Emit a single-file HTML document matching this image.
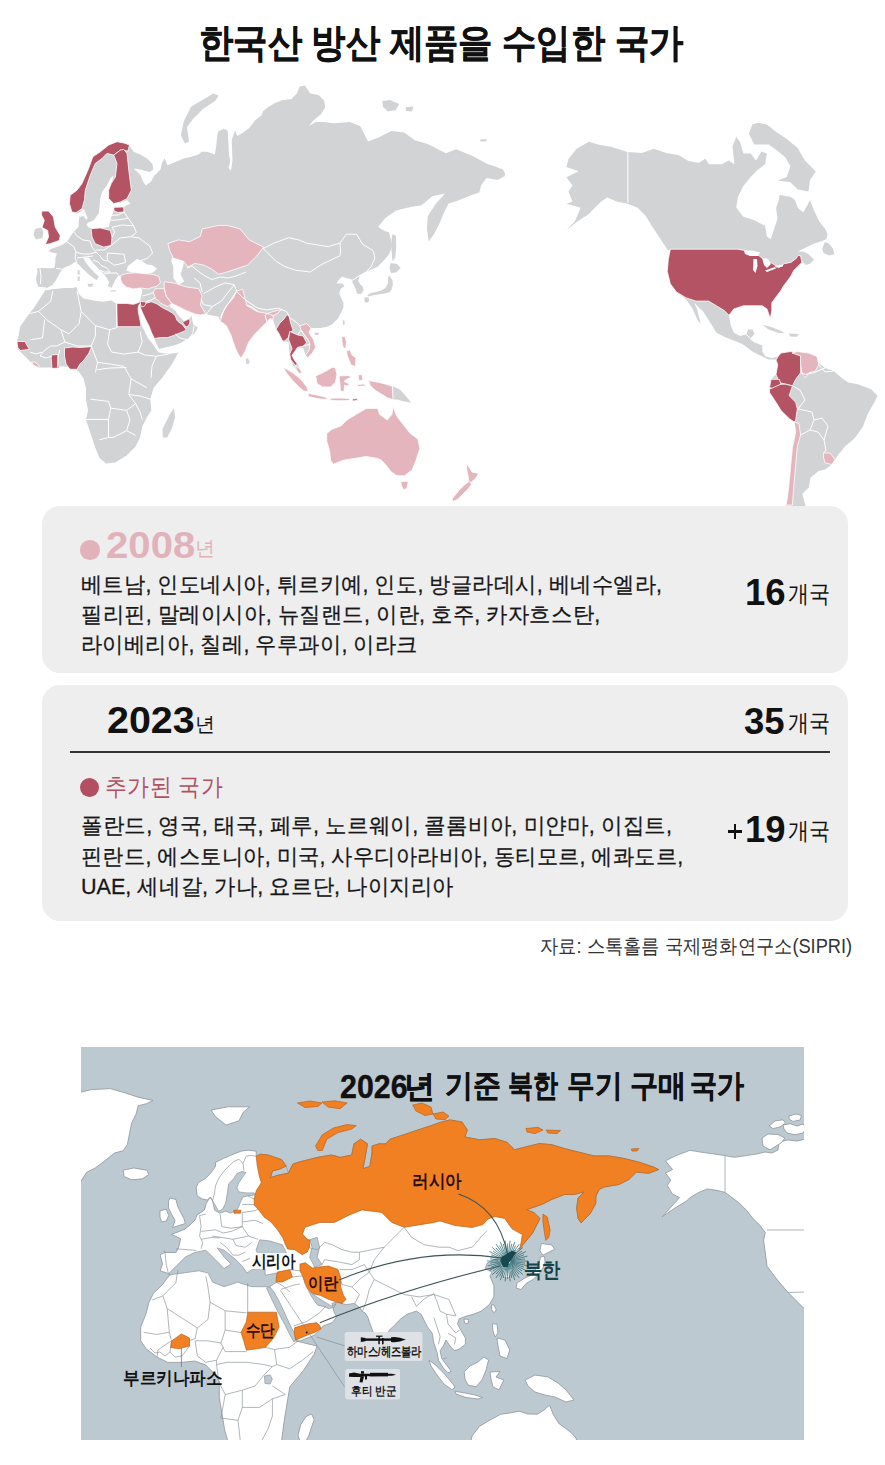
<!DOCTYPE html>
<html lang="ko">
<head>
<meta charset="utf-8">
<title>한국산 방산 제품을 수입한 국가</title>
<style>
html,body{margin:0;padding:0;background:#fff;}
body{width:885px;height:1465px;position:relative;overflow:hidden;font-family:"Liberation Sans",sans-serif;color:#111;}
.t{position:absolute;white-space:nowrap;line-height:1;transform-origin:0 0;}
.j{text-align:justify;text-align-last:justify;}
.panel{position:absolute;background:#eeeeee;border-radius:18px;}
#map1,#map2{position:absolute;left:0;top:0;}
.body{font-size:21px;color:#161616;-webkit-text-stroke:0.25px #161616;}
.num{font-weight:bold;font-size:36.5px;color:#111;}
.unit{font-size:22px;color:#111;transform:scale(0.965,1.1);}
.dot{position:absolute;border-radius:50%;}
</style>
</head>
<body>
<svg id="map1" width="885" height="1465" viewBox="0 0 885 1465">
<g fill="#d1d3d5">
<polygon points="46,287.5 41.8,287 38.5,287 36.5,282 36,278.5 37.6,271.8 36.8,268.5 42,268 50,268.3 54.3,268 55.2,263.5 55.5,258 56.9,253.4 52,252.5 48.5,251 51,249 56.9,246.8 62,245 66.9,241.7 70,237 73.6,231.7 78.6,227 78.6,222 79.4,217 76,212.8 71.9,212 69.4,203.6 70.2,195.3 77,190.2 82,183.5 88.6,168.5 92.8,156.8 100.3,151.8 108.7,145 117,141.7 124,143 129.5,146 133.6,151.7 140.3,154.4 147.1,158.5 152.5,163.9 153.2,169.3 149.8,172 144.4,170.7 139,169.3 133.6,168.6 140.3,174.7 143.1,181.5 145.8,185.6 151.2,181.5 153.9,176.1 156.6,173.4 160.7,169.3 162,162.5 164.7,158.5 167.5,165.3 174.2,162.5 183.7,158.5 190.5,157.1 198.6,154.4 201.4,151.7 206.8,151.7 214.9,154.4 216.3,145 217,138 218.1,131.5 223.6,128.8 227.6,130.2 228.3,141 229,154.6 230.3,161.4 228.5,168 231,170.5 232.5,160 231.7,140 235.1,130.2 237.1,136 242.5,133 249.3,128 254.7,120.7 261.5,115.3 262.9,111.2 268.3,107.1 275.1,103.1 281.9,100.3 291.4,99 296.8,93.6 299.5,86.8 304.9,85.4 307.6,89.5 310.3,93.6 318.5,94.9 323.9,100.3 325.3,107.1 321.2,113.9 313.1,120.7 309,126.1 315.8,122 323.9,122 334.2,123.3 349.8,122 360.2,125.9 368,141.5 378.4,137.6 391.4,131.1 404.3,132.4 414.7,140.2 427.7,144.1 435.5,148 445.9,153.2 456.3,149.3 471.9,155.8 480,160 487.5,164 497.9,167.5 503,169.5 505,173.5 504.7,176.3 497.4,179.9 486.6,178 481.2,185.3 479.3,192.5 468.5,196.2 457.6,200.7 448.6,203.4 443.2,214.2 439.6,223.3 434.1,234.1 428.7,241.4 426.9,228.7 427.8,216 436,203.4 445,193.5 432.3,196.2 421.5,205.2 410.6,207 396.2,210.6 385.3,217.9 378.1,226.9 383.5,230.5 388.9,232.3 391,240 392.2,246 389.5,253.6 384.1,260.3 377.3,267.1 370.5,269.8 366.4,271.2 365.1,272.5 359.7,275.3 358.3,281 360.5,284.7 362.4,286.1 363.7,290.2 361,294.2 357,293.6 355.6,288.8 354.2,286.1 352.9,283.4 351.5,279.3 346.1,278 342,276.6 338,280.7 336.6,283.4 342,283.4 344.7,286.1 340.7,288.8 339.3,292.9 340.7,297 343.4,302.4 343.4,307.8 340.7,313.2 338,318.6 332.5,324.1 327.1,326.8 320.3,328.1 316.3,328.1 311.2,328.1 308.9,332.6 313.4,339.4 315.7,347.3 312.3,352.9 307.8,357.5 305.5,355.2 303.2,348 299,347.5 295.3,350.7 292,355.2 294.2,359.7 297.6,364.2 299.9,368.8 302.1,373.3 298.7,373.3 296.5,369.9 293,365.5 290.8,359.7 289.7,354.1 289,348 288.6,342 284,341.6 281.8,339.4 278.4,332.6 276.1,329.2 273,320 270,318.5 267.1,321.7 261,327.8 254.9,333.9 248.8,342 244.7,352.2 240.7,358.3 236.6,351 234.6,346.1 230.5,333.9 226.4,325.8 222.4,322.5 220.3,321.7 218.3,316.5 212,315.5 205.8,314 200.4,315 195,314 186,310.4 178.7,306.8 171.5,303.2 169.7,306.8 175.1,310.4 178.7,315.8 181,318 184.1,321.3 189.6,318.6 191.4,315.8 193.3,324.8 197.8,327.5 195.1,333 189.7,337.5 184,341 180.7,342.9 173.9,345.6 167.1,347 159,349 157.1,345 154.4,339 151.7,333 149,326 145.4,319 142.7,313.1 140.8,308.6 140,305.8 141,303.8 139.6,303.6 139,304.5 138.1,308 138.5,313 140,320 142,326 145,332 148.1,338.4 152.6,343.8 156.2,349.2 157.5,351 159,352.4 167.1,353.7 172.5,353.4 178,352.4 175.3,358.5 171.2,365.3 167.1,370.7 162.4,377.5 153.7,387.8 150.3,399.1 151.4,410.4 146.9,417.2 142.4,426.2 140.1,437.5 135.6,446.6 126.6,455.6 115.3,462.4 106.2,463.5 99.4,457.9 94.9,446.6 90.4,433 85.9,419.4 88.1,410.4 85.9,399.1 85.9,387.8 83.6,378.8 79.1,372 74.6,368.6 63.3,366.3 52,367.5 38.4,367.5 31.6,363 24.9,356.2 18.1,349.4 17,340.3 18.4,337 20,327 26.8,317 33.4,308.6 40.1,298.6 45.2,290.2"/>
<polygon points="568.5,159 576.6,148.8 588.8,141.7 599,144.7 611.2,146.8 627.5,151.9 641.7,152.9 653.9,148.8 666.1,152.9 678.3,154.9 688.5,161 698.6,163 705.4,158.8 709,164.2 721.7,164.2 728.9,160.6 734.4,164.2 732.5,146.2 736.2,137.1 740,142 743.4,153.4 750.6,153.4 756,160.6 761.5,151.6 766.9,153.4 765.1,164.2 757.9,169.7 750.6,176.9 743.4,186 738,196.8 736.2,207.6 743.4,216.7 754.2,220.3 765.1,225.7 766.9,236.6 770.7,239.3 774.7,227.1 777.5,219 776.1,208.1 778.8,200 779.6,195 790.4,196.8 795,200 797.8,208.1 803.2,212.2 807.3,205.4 810,200 814.1,210.8 819.5,221.7 824.9,228.5 827.6,233.9 826.3,239.3 819.5,242 814.1,243.4 805.9,247.5 800.5,250.2 797.8,251.5 803.2,251.5 808.6,254.2 814.1,259.7 810,263.7 805.9,265.1 803.2,262.4 801.9,259.7 801.9,262.4 797.8,266.4 793.7,270.5 791,275.9 787,281.4 782.9,286.8 781.3,290 776.5,296.3 771.8,302.7 771.8,310.6 770.2,318.5 767,309 762.3,305.8 752.8,305.8 743.3,305.8 733.8,309 729,315.3 730.6,324.8 733.8,332.7 740.1,335.9 746.5,334.3 748,329.6 752.8,329.6 754.4,334.3 749.6,339 754.4,342.2 762.3,345.4 762.3,351.7 765.4,356.5 771.8,358 778.1,356.5 781,353 790.8,351.5 800.6,353.1 808.8,354.7 815.4,358 818.7,362.9 825.2,367.9 833.4,371.1 841.6,377.7 848.1,382.6 858,384.2 871.1,389.2 877.6,395.7 874.4,402.3 867.8,413.7 862.9,426.8 854.7,438.3 844.9,446.5 838.3,454.7 831.8,464.5 825.2,469.4 818.7,471.1 810.5,477.6 808.8,487.5 802.3,494 805.5,505.5 805,520 786,520 785.9,505.5 787.5,497.3 789.2,482.6 790.8,464.5 792.4,448.1 795.7,431.8 794.1,421.9 789.2,418.6 781,410.5 776,402.3 769.5,392.4 769.5,387.5 771.1,379.3 776,374.4 777.7,364.6 776,360 774.9,359.6 768.6,359.6 762.3,356.5 752.8,351.7 746.5,347 741.7,343.8 733.8,340.6 725.9,337.5 716.4,332.7 711.6,324.8 703.7,312.2 694.2,302.7 697,309 700.6,323.2 698,321 692.7,309 686.3,299.5 676.4,292 670.3,283.8 667.3,271.6 668.3,259.4 670.2,249.5 668.1,250.5 660,238.3 651.9,226.1 645.8,215.9 637.6,207.8 627.5,203.7 617.3,201.7 607.1,197.6 601,201.7 592.9,209.8 588.8,213.9 576.6,222 566.4,230.2 575,221 580.7,207.8 566.4,203.7 572.5,201.7 568.5,191.5 572.5,185.4 566.4,177.3 578.6,171.2 566.4,167.1"/>
<polygon points="35,229 41,227.5 43.5,232 42.5,238 36,239.5 33.5,235"/>
<polygon points="191,106.8 201.2,100.7 213.4,93.6 218.5,95.6 215.4,100.7 203.2,108.8 193,119 187,127.1 189,141.4 184.9,143.4 180.8,135.2 183.9,121"/>
<polygon points="382.3,101 390,99.9 399.2,104 396,110 388,111.6 383,107"/>
<polygon points="405.6,107 413.4,106.4 412,111.6 406,111"/>
<polygon points="480,139.5 486.5,139 486,141.5 480.5,141.5"/>
<polygon points="392.5,234.1 396,236 396.2,246.8 395.3,257.6 392.5,261.3 391.5,250 391.5,240"/>
<polygon points="390.7,263 397,264 400.7,268 396,272.5 391,273 389.5,268"/>
<polygon points="389,275.5 392.5,280 392.9,285 391.5,290 389,292.5 384,293.5 378,294.5 372,295.5 368,296.5 367.4,295 371,293 376,292 381,290.5 385.5,288 388,283 388,278"/>
<polygon points="364.3,297.5 368.5,297.3 369.3,301 366.5,302.9 364.5,301.5"/>
<polygon points="342.8,320.2 344.5,320.5 344.7,324.7 343,325"/>
<polygon points="314.5,332.6 319,332.8 318.5,335 315,335"/>
<polygon points="245.8,358.5 248,358.3 249.8,362 248,364.4 246,363"/>
<polygon points="162.7,428.5 169.5,414.9 174,408.1 175.1,417.2 171.8,428.5 167.2,437.5 162.7,437.5"/>
<polygon points="393.1,386.2 400.3,390.1 405,394.9 411.3,402.8 403.4,401.2 397.1,399.6 393.1,399.6"/>
<polygon points="752.4,124.5 757.9,122.7 766.9,124.5 776,131.7 786.8,138.9 797.6,148 804.9,160.6 815.7,171.5 810,180 808.5,191.4 797.6,189.6 790.4,182.3 777.8,180.5 786.8,176.9 790.4,166 785,157 776,149.8 768.7,144.4 754.2,144.4 748.8,133.5"/>
<polygon points="824.9,242 829,243.5 833,248.8 834.4,254.2 829,255.6 823.6,252.9 822.2,248.8"/>
<polygon points="762.3,324.8 771.8,327.2 781.3,331.1 784.4,333.5 778.1,332.7 768.6,329.6"/>
<polygon points="789,333.5 798.7,334 797,336.7 790,336.5"/>
</g>
<g fill="#ffffff">
<polygon points="46,287.8 47,288.1 52.6,284.7 56,280.2 59.4,273.4 62.8,268.9 63.9,267.8 69.5,265.5 75.2,262.1 78.6,264.4 83.1,268.9 87.6,273.4 93.3,277.9 96.7,280.2 98.9,276.8 95.5,273.4 89.9,267.8 85.4,262.1 83.1,257.6 88.8,257.6 93.3,263.2 98.9,268.9 103.4,273.4 106.8,277.9 109.1,282.5 108,285.8 111.4,288.1 113.6,283.6 115.9,279.1 118,276 120.7,276 120.7,279.9 122.5,283.5 126.2,287.1 133.4,288.9 140.6,288 142.4,289.8 141.5,294.4 140.6,298.9 139.7,301.6 138.8,302.5 133.4,304.3 126.2,303.4 116.2,303.4 111.4,300.5 103.4,301.7 93.3,300.5 83.1,298.3 78.6,293.8 76.3,287 73,288.1 63.9,288.1 52.6,289.2 45.5,290.2"/>
<polygon points="126.3,270.6 128,266 133,262 137.1,258.9 142,261 147,264.5 152,265 157,268.8 153,272.5 146.2,274.2 139,273 131.7,272.4"/>
<polygon points="171.5,258 182.3,256.2 184.1,261 183,267 180.5,274.2 184.1,281.5 178.7,285.1 173.3,277.9 173.3,267 171.5,262"/>
<polygon points="93.6,220.3 98.7,213.6 99.5,207 100.3,198.6 102,191.9 107,185.2 110.4,178.5 113.7,175.2 111.2,183.5 108.7,190.2 108.7,198.6 113.7,203.6 120.4,202.8 127,200.3 130.4,203.6 123.7,207 115.4,207 113.7,210.3 112,215.3 110.4,220.3 108.7,227 102,227.9 93.6,228.7 88.5,227.5 86.5,224.5 88.5,222.2 91,221.6"/>
<polygon points="76.5,214 80,212 83,209 84.5,210 86,214 87.5,218 86.5,220 85,218 83.5,216 80.5,216.8 78,216"/>
</g>
<g fill="#d1d3d5">
<polygon points="87.6,284 93.3,283.6 92,287 88,286.5"/>
<polygon points="77.5,270 79.7,270.5 79.5,275 77.8,274.5"/>
<polygon points="77.6,276.5 79.7,276.5 79.6,281.3 77.8,281"/>
<polygon points="110,290.5 116,290.3 115.5,291.6 110.2,291.6"/>
</g>
<g stroke="#fff" stroke-width="0.8" stroke-linejoin="round">
<polygon fill="#b45364" points="76,212.8 71.9,212 69.4,203.6 70.2,195.3 77,190.2 82,183.5 88.6,168.5 92.8,156.8 100.3,151.8 108.7,145 117,141.7 124,143 129.5,145 128,151 120.4,150.1 113.7,155.1 107,153.4 102,158.5 95.3,163.5 90.3,175.2 85.3,190.2 84.4,200.3 82,208.6"/>
<polygon fill="#b45364" points="113.7,155.1 120.4,150.1 123.7,149.3 127,153.4 128.8,170.2 131.3,190.2 127,198.6 120.4,202 113.7,203.6 108.7,198.6 108.7,190.2 111.2,183.5 115.4,176.9 117,163.5"/>
<polygon fill="#b45364" points="113.7,207.3 123.7,207 124,212 118,212.5 114,211"/>
<polygon fill="#b45364" points="91.1,228.7 100.3,227.9 110.4,230.4 112,237 111.2,245.4 103.7,247.1 95.3,243.7 92,237"/>
<polygon fill="#b45364" points="116.2,303.4 126.2,303.4 133.4,304.3 138.8,302.5 139.7,301.6 140.5,303.8 139,304.5 138.1,308 138.5,313 140,320 141,325.7 139.5,326.7 117.2,326.7"/>
<polygon fill="#b45364" points="141,304 146.3,303.1 151.7,301.8 157.1,304 162.5,307.7 168,310.4 172.5,313.1 175.2,315.8 177,320.3 179.7,323 182,324 186.1,329.4 184.2,331.2 175.2,334.8 168,337.5 160.7,337.5 154.5,338.5 151.7,333 149,326 145.4,319 142.7,313.1 140.8,308.6 140,305.8"/>
<polygon fill="#b45364" points="182.5,322.5 184.1,321.3 189.6,318.6 190,322 188.5,326 186,327"/>
<polygon fill="#b45364" points="140.3,301.3 144.5,301.8 146.3,303.1 144,306.5 141.5,306.8 140.5,304"/>
<polygon fill="#b45364" points="17,341.5 24.9,341.5 29.4,349.4 20.3,350.5 17.5,347.1"/>
<polygon fill="#b45364" points="51,355 58,354.5 59,368 52,368.5"/>
<polygon fill="#b45364" points="64.5,348 72,347 80,347.5 91.5,346.7 89,353 84,360 80,364 77,369.3 70,369.3 66,364 64.5,356"/>
<polygon fill="#b45364" points="288.6,314.5 290.8,323.6 293.1,330.3 289.7,332.6 288.6,337.1 284,341.6 281.8,339.4 278.4,332.6 276.1,329.2 279.5,323.6 284,319 286.3,315.6"/>
<polygon fill="#b45364" points="289.7,331.5 297.6,334.9 303.2,336 306.6,342.8 303.2,346.2 297.6,347.3 295.3,350.7 292,355.2 294.2,359.7 297.6,364.2 295.3,365.4 290.8,359.7 289.7,354.1 292,348.4 288.6,339.4"/>
<polygon fill="#e4b5bd" points="299.9,325.8 306.6,323.6 311.2,328.1 308.9,332.6 313.4,339.4 315.7,347.3 312.3,352.9 307.8,357.5 305.5,355.2 308.9,350.7 310,343.9 307.8,339.4 304.4,334.9 301,330.3"/>
<polygon fill="#e4b5bd" points="295.3,365.4 299.9,368.8 302.1,373.3 298.7,373.3 296.5,369.9"/>
<polygon fill="#e4b5bd" points="120.7,275.4 126.2,273.6 135.2,272.7 144.2,273.6 153.3,274.5 158.7,276.3 160.5,282.6 156.9,286.2 153.3,287.1 147.9,288.9 140.6,288 133.4,288.9 126.2,287.1 122.5,283.5 120.7,279.9"/>
<polygon fill="#e4b5bd" points="167.9,243.5 178.7,239.9 189.6,241.7 200.4,236.3 202.2,229 218.5,225.4 227.5,225.4 240.2,229 249.2,239.9 263.7,247.1 256.5,256.2 247.4,265.2 236.6,268.8 225.7,272.4 218.5,274.2 211.3,268.8 204,265.2 195,263.4 187.8,267 184.1,261.6 173.3,258 169.7,250.7"/>
<polygon fill="#e4b5bd" points="164.2,281.5 175.1,283.3 186,286.9 198.6,288.7 202.2,295.9 200.4,305 205.8,314 200.4,315 195,314 186,310.4 178.7,306.8 171.5,303.2 166.1,296 164.2,288.7"/>
<polygon fill="#e4b5bd" points="155.2,288.7 164.2,288.7 166.1,296 171.5,303.2 167.9,306.8 160.6,303.2 155.2,297.8 153.4,292.3"/>
<polygon fill="#e4b5bd" points="242.7,289.1 236.6,291.2 232.5,299.3 226.4,305.4 222.4,313.6 220.3,321.7 222.4,322.5 226.4,325.8 230.5,333.9 234.6,346.1 236.6,351 240.7,358.3 244.7,352.2 248.8,342 254.9,333.9 261,327.8 267.1,321.7 265.1,315.6 273.2,315.6 278,313 281.4,309.5 273.2,311.5 267.1,313.6 256.9,311.5 246.8,305.4 245,298"/>
<polygon fill="#e4b5bd" points="267.1,313.6 273.2,315.6 273,320 270,318.5 267.1,321.7 265.1,315.6"/>
<polygon fill="#e4b5bd" points="31.6,361.8 35,362 39.5,366 38.4,367.5 33,365"/>
<polygon fill="#b45364" points="670.3,249.2 737.5,249.2 745,250.5 752,252 758,255 762,258 770,262 778.8,267.8 784.2,263.7 791,262.4 796.4,258.3 797.8,255.6 800.5,255.6 801.9,262.4 797.8,266.4 793.7,270.5 791,275.9 787,281.4 782.9,286.8 781.3,290 776.5,296.3 771.8,302.7 771.8,310.6 770.2,318.5 767,309 762.3,305.8 752.8,305.8 743.3,305.8 733.8,309 729,315.3 724.3,310.6 716.4,305.8 708.5,301.1 695.8,301.1 686.3,297.9 676.4,292 670.3,283.8 667.3,271.6 668.3,259.4"/>
<polygon fill="#b45364" points="778.1,356.5 781,353 790.8,351.5 800.6,354.7 800.6,372.8 795.7,379.3 792.4,385.9 785.9,384.2 779.3,382.6 776,374.4 777.7,364.6 776,360"/>
<polygon fill="#e4b5bd" points="792,353 797.3,351.5 808.8,353.1 817,356.4 818.7,364.6 815.4,371.1 808.8,372.8 805.5,377.7 802.3,374.4 800.6,364.6 800.6,356"/>
<polygon fill="#b45364" points="771.1,379.3 779.3,379.3 781,384.2 774.4,389.2 769.5,387.5"/>
<polygon fill="#b45364" points="769.5,389.2 781,384.2 785.9,384.2 792.4,385.9 789.2,395.7 795.7,402.3 797.3,408.8 795.7,420.3 794.1,421.9 789.2,418.6 781,410.5 776,402.3 769.5,392.4"/>
<polygon fill="#e4b5bd" points="794.1,421.9 799,423.6 800.6,435 797.3,446.5 795.7,464.5 794.1,482.6 792.4,505 786,505 785.9,505.5 787.5,497.3 789.2,482.6 790.8,464.5 792.4,448.1 795.7,431.8"/>
<polygon fill="#e4b5bd" points="823.6,453 830.1,453 835,459.6 831.8,464.5 825.2,462.9 823.6,458"/>
<polygon fill="#e4b5bd" points="283.2,367.2 292.7,372.7 300.6,379 306.9,387 308.5,391.7 303.7,390.9 299,387 292.7,380.6 286.3,372.7"/>
<polygon fill="#e4b5bd" points="307.7,393.3 316.4,394.9 325.9,397.2 327.5,399.6 318,398.8 308.5,396.5"/>
<polygon fill="#e4b5bd" points="330,398.2 340,398 350,398.5 349,400.6 338,400.8 330,400.2"/>
<polygon fill="#e4b5bd" points="315.6,375.9 321.1,373.5 327.5,370.3 332.2,367.2 335.4,368 337,374.3 335.4,382.2 330.6,387 322.7,387 317.2,383.8"/>
<polygon fill="#e4b5bd" points="339,376 348,375.5 352,377 346,379.5 344,381.5 350,384 347,386 344.5,385 344,391.7 340.5,391 340,384"/>
<polygon fill="#e4b5bd" points="358,375 362,374.5 363,380 359,381"/>
<polygon fill="#e4b5bd" points="357,384.5 364,384 366,386 358,386.5"/>
<polygon fill="#e4b5bd" points="341.7,336.3 345,336.5 346.5,342 345.5,349 343,347 342,342"/>
<polygon fill="#e4b5bd" points="346.5,350.6 350,350 352,355 356,358 355.5,366.4 351,365 349,360 347,355"/>
<polygon fill="#e4b5bd" points="368.6,380.6 378.1,382.2 384.4,383.8 392.3,386.2 393.1,399.6 387.6,398 382.8,394.9 374.9,390.1 370.2,385.4"/>
<polygon fill="#e4b5bd" points="326.7,433.4 331.5,429.6 341.1,425.7 346.9,420 356.5,414.2 366.1,408.4 377.6,408.4 379.5,414.2 387.2,420 392,414.2 393,406.5 396.8,416.1 402.6,423.8 410.3,433.4 418,439.2 419.9,448.8 416,460.3 412.2,469.9 404.5,475.7 396.8,475.7 391.1,471.8 385.3,464.2 381.5,460.3 377.6,458.4 366.1,456.5 354.6,458.4 343.1,460.3 333.4,464.2 330.6,460.3 329.6,450.7 326.7,441.1"/>
<polygon fill="#e4b5bd" points="400.7,481.4 408.4,481.4 407,488 404,490 401.5,486"/>
<polygon fill="#e4b5bd" points="466,463.5 469,467 472,472 478.5,473.5 476,478 471.5,482 468,483.5 468.5,478 467,471"/>
<polygon fill="#e4b5bd" points="469.5,481 471.5,484.5 468,489 463,494 458,499 453,501.7 452,499 456,494 460,489 464.5,485"/>
<polygon fill="#b45364" points="41.8,211.1 48.5,211 53.5,217 55.2,227 60.2,235.4 59.4,240.4 50.2,243.7 45.2,244.6 48.5,237 47.7,230.4 42,227.5 44.3,220.3 41.5,215"/>
<polygon fill="#b45364" points="352.3,399 357.8,398.7 357,400.5 352.5,401"/>
</g>
<g fill="#ffffff">
<polygon points="744,251 752,250.5 760,252.5 758,256 750,256 745,254"/>
<polygon points="753.5,259 757,259 757.5,266 755.5,273 753,270"/>
<polygon points="762,258 768,259 771,264 767,268 764,265"/>
<polygon points="765,270.5 775,267 776,268.5 767,272"/>
<polygon points="775,266 783,264.5 783,266.5 776,267.5"/>
</g>
<g stroke="#fff" stroke-width="1" fill="none">
<polyline points="627.9,151.9 627.9,202.7"/>
<polyline points="263.2,248.5 274,243.1 288.5,237.7 297.5,239.5 306.6,243.1 317.4,244.9 328.3,246.7 333.7,244.9 340,243.1 340.5,250 340,255.7 328.3,261.2 321,264.8 310.2,272 295.7,270.2 284.9,266.6 275.8,261.2 268.6,253.9 263.2,248.5"/>
<polyline points="340,243.1 346.4,234.2 356.6,234.2 362.7,244.4 372.9,250.5 375,258 371,267 366.4,271.2"/>
<polyline points="352,280.5 358,276.5 365,272.5"/>
<polyline points="187,268 192,266 198,271 205,276 212,279.5 220,277 228,278 236,276 246,272"/>
<polyline points="203.5,293.7 210,290 216.2,286.5 225.2,282.9 234.2,284.7 227,293.7 221.6,301 212.5,306.4 203.5,304.6 201,299"/>
<polyline points="234.2,284.7 236.6,291.2 232,298 228,304 224,310 220.3,318"/>
<polyline points="212.5,306.4 208,312 206,314.5"/>
<polyline points="194,278 200,283 202.2,292"/>
<polyline points="236.6,291.2 241,296 247,301 257.8,308.2 266.8,310 277.6,308.2 286.7,311.5 290,318 296,322 299.9,325.8"/>
<polyline points="246.8,305.4 252,307 257.8,311.5"/>
<polyline points="297.6,334.9 301,330.3 304.4,334.9 307.8,339.4"/>
<polyline points="303.2,346.2 307.5,345 310,343.9"/>
<polyline points="153.4,292.3 150,294 146,295 142.4,296"/>
<polyline points="155.2,297.8 151,300 146.1,301.5"/>
<polyline points="175.1,333.9 180,338 188,340 193,333 194,326"/>
<polyline points="66.9,241.7 70,244 74,247 76,252 75,258 77,263"/>
<polyline points="73.6,231.7 77,236 83,240 90,241 92,247 96,252 90,254 82,254 76,252"/>
<polyline points="77,258 85,257 93,256"/>
<polyline points="96,250 104,250 111.2,245.4"/>
<polyline points="107.9,253 115,253.5 124.2,254.3 125.5,262.5 114.7,265.2 107.9,261.1 107,257 107.9,253"/>
<polyline points="111.2,245.4 120.1,238 130.9,236.7 139.1,238 149.9,246.2 152.6,253 147.2,258.4 139.1,261.1"/>
<polyline points="112,237 115,232 112,227.2 122,225 133.6,225.8 136.4,232.6 130.9,236.7"/>
<polyline points="112,215.3 118,215 124,212"/>
<polyline points="110.4,220.3 117,220 124,219 128,218"/>
<polyline points="124,212 128,218 133.6,225.8"/>
<polyline points="56,268.3 63,269.5"/>
<polyline points="40,269 41,276 40.5,284"/>
<polyline points="93,260 98,262 102,266 107,268 110,272 104,272 100,270"/>
<polyline points="104,274 110,273 117,273 119,276"/>
<polyline points="96,252 100,256 103,260 107,261"/>
<polyline points="52.7,291.1 50.7,301.3 38.5,311.4 30.3,313.5"/>
<polyline points="38.5,311.4 46.6,319.6 60.8,329.7 69,333.8 79.1,323.6 81.2,311.4 79.1,301.3 77.1,291.1"/>
<polyline points="44.6,319.6 42.5,337.9 30.3,339.9"/>
<polyline points="60.8,329.7 64.9,342 56.8,346 50.7,346 45,350 40,356"/>
<polyline points="81.2,311.4 95.4,325.7 95.4,335.8 91.3,346"/>
<polyline points="64.9,342 77.1,346 91.3,346"/>
<polyline points="95.4,325.7 109.7,329.7 116.8,327.7"/>
<polyline points="116.8,303.3 116.8,327.7"/>
<polyline points="109.7,329.7 107.6,344 111.7,352.1 123.9,354.1 138.1,352.1 142.2,341.9 140.2,331.8"/>
<polyline points="138.1,352.1 145,355 156.4,356.2 168.6,354.1 172,350"/>
<polyline points="156.4,356.2 152,366 151,378"/>
<polyline points="91.3,346 97.5,362.3 95.4,372.5"/>
<polyline points="97.5,362.3 111.7,364.3 123.9,366.4 131.1,378.8 146.9,387.8"/>
<polyline points="97.2,369.7 110,368 126.6,367.5"/>
<polyline points="131.1,378.8 128.8,394.6 135.6,403.6 126.6,410.4 110.7,408.1 108.5,401.4 90.4,399.1"/>
<polyline points="85.9,419.4 108.5,419.4 110.7,408.1"/>
<polyline points="108.5,419.4 108.5,437.5 99.4,439.8"/>
<polyline points="108.5,437.5 113,437.5 126.6,430.7 135.6,435.3"/>
<polyline points="126.6,410.4 130,420 126.6,430.7"/>
<polyline points="135.6,403.6 140,412 142.4,420"/>
<polyline points="128.8,394.6 140,396 150.3,399.1"/>
<polyline points="30,352 36,354 42,352"/>
<polyline points="40,356 46,358 52,356.2"/>
<polyline points="57.6,367.5 58,356 60,350"/>
<polyline points="800.6,372.8 805.5,374.4 813.7,372.8 825.2,367.9"/>
<polyline points="792.4,385.9 800,390 805,400 798,408.8"/>
<polyline points="797.3,408.8 803,410 812,412 814,420 810,430 800.6,435"/>
<polyline points="810,430 818,432 824,440 826,450 823.6,453"/>
<polyline points="814,420 822,418 828,426 824,440"/>
<polyline points="818.7,364.6 825,372 833.4,371.1"/>
<polyline points="743.6,332.6 748,336 754.4,342.2"/>
</g>
</svg>

<div class="t j" id="title" style="left:198.5px;top:24px;font-size:38.6px;font-weight:bold;color:#111;-webkit-text-stroke:0.35px #111;transform:scaleX(0.880);width:550.3px;">한국산 방산 제품을 수입한 국가</div>

<div class="panel" style="left:42px;top:506.2px;width:805.5px;height:167.1px;"></div>
<div class="panel" style="left:42px;top:685.2px;width:805.5px;height:236.3px;"></div>

<div class="dot" style="left:80px;top:540px;width:19.5px;height:19.5px;background:#e2b2ba;"></div>
<div class="t num" style="left:106px;top:527.7px;color:#e2b2ba;transform:scaleX(1.1);">2008</div>
<div class="t" style="left:194.5px;top:537.5px;font-size:20px;color:#e2b2ba;">년</div>
<div class="t j body" style="left:81.1px;top:573.2px;transform:scale(1.0223,1.06);width:568.3px;">베트남, 인도네시아, 튀르키예, 인도, 방글라데시, 베네수엘라,</div>
<div class="t j body" style="left:81.1px;top:603.3px;transform:scale(1.0275,1.06);width:505.3px;">필리핀, 말레이시아, 뉴질랜드, 이란, 호주, 카자흐스탄,</div>
<div class="t j body" style="left:81.1px;top:633.1px;transform:scale(1.023,1.06);width:329.3px;">라이베리아, 칠레, 우루과이, 이라크</div>
<div class="t num" style="left:745px;top:574.8px;">16</div>
<div class="t unit" style="left:787.5px;top:581.5px;">개국</div>

<div class="t num" style="left:107px;top:703.3px;transform:scaleX(1.08);">2023</div>
<div class="t" style="left:194.5px;top:714px;font-size:20px;color:#111;">년</div>
<div class="t num" style="left:744px;top:703.6px;">35</div>
<div class="t unit" style="left:788px;top:710.5px;">개국</div>
<div style="position:absolute;left:70px;top:751px;width:760px;height:1.5px;background:#333;"></div>
<div class="dot" style="left:80px;top:778.3px;width:19.2px;height:19.2px;background:#b25062;"></div>
<div class="t j" style="left:105px;top:775.5px;font-size:22.5px;color:#b25062;transform:scale(0.975,1.07);width:121.3px;">추가된 국가</div>
<div class="t j body" style="left:80.5px;top:814px;transform:scale(1.0347,1.06);width:571.3px;">폴란드, 영국, 태국, 페루, 노르웨이, 콜롬비아, 미얀마, 이집트,</div>
<div class="t j body" style="left:80.5px;top:844.5px;transform:scale(1.022,1.06);width:589.3px;">핀란드, 에스토니아, 미국, 사우디아라비아, 동티모르, 에콰도르,</div>
<div class="t j body" style="left:80.8px;top:874.7px;transform:scale(1.0267,1.06);width:363.3px;">UAE, 세네갈, 가나, 요르단, 나이지리아</div>
<div style="position:absolute;left:728.1px;top:830.3px;width:13.6px;height:2.4px;background:#111;"></div><div style="position:absolute;left:733.7px;top:824px;width:2.4px;height:14.9px;background:#111;"></div>
<div class="t num" style="left:745px;top:812.4px;">19</div>
<div class="t unit" style="left:788px;top:819px;">개국</div>

<div class="t j" style="left:540px;top:936px;font-size:20px;color:#333;transform:scaleX(0.912);width:342.3px;">자료: 스톡홀름 국제평화연구소(SIPRI)</div>

<svg id="map2" width="885" height="1465" viewBox="0 0 885 1465" style="pointer-events:none">
<clipPath id="m2c"><rect x="81" y="1047" width="723" height="393"/></clipPath>
<g clip-path="url(#m2c)">
<rect x="81" y="1047" width="723" height="393" fill="#bdc9d0"/>
<g fill="#ffffff" stroke="#8e969c" stroke-width="0.8" stroke-linejoin="round">
<polygon points="169.3,1273 167,1273 160.2,1270.8 162.5,1263.9 160.2,1254.8 164.7,1252.5 176.1,1252.5 178.4,1247.9 180.7,1238.8 171.6,1234.2 178,1232 185,1229 190,1225 195,1220 197,1215 204.3,1210.2 206.4,1203.1 210.4,1197 207.4,1200 202.3,1199 197.2,1195.9 196.2,1187.8 198.2,1182.7 205.3,1178.6 210.4,1173.6 215.5,1166.4 215.5,1162.4 223.6,1158.3 230.8,1155.3 240.9,1151.2 248.1,1150.2 256.2,1151.2 256.2,1156.3 260.3,1154.2 268.1,1155 281.6,1159.6 286.2,1166 280,1169 272.6,1170.9 270.3,1177.7 277.1,1175.4 288.4,1173.1 292.9,1164.1 299.7,1161.8 308.8,1159.6 317.8,1157.3 331.4,1155 340.4,1157.3 351.7,1155 354,1143.8 360.7,1139.2 367.5,1143.8 365.2,1157.3 363,1168.6 369.8,1166.4 372,1152.8 372,1146 378.8,1143.8 385.6,1143.8 390.1,1139.2 403.7,1134.7 417.2,1130.2 430.8,1125.7 440,1122.4 450,1119.9 462,1122 467.3,1130 465,1137 479.8,1139.8 494.7,1138.5 507.1,1142.3 514.6,1149.7 524.5,1147.2 539.4,1143.5 551.9,1144.7 564.3,1148.5 579.2,1152.2 594.1,1155.9 609,1155.9 623.9,1158.4 638.9,1162.1 653.8,1167.1 658.7,1169.6 648.8,1173.3 636.4,1172.1 628.9,1179.5 619,1184.5 604.1,1187 599.1,1189.5 596,1196 595.7,1203.8 589.9,1214.1 581,1222.9 578.1,1218.5 576.6,1208.2 578.1,1197.9 584,1192 574.2,1194.5 564.3,1194.5 551.9,1199.4 541.9,1204.4 533,1207.5 526.7,1209.7 534,1212.6 540,1218.5 537,1224.4 532.6,1233.2 525.2,1242 519.4,1249.3 516,1253 513.5,1259 512,1264 513,1269 511,1275 508,1278.5 503.5,1277 502,1270 500,1264 497,1260 494,1259.5 487,1263.3 485.2,1268.7 492,1272 490,1276 493.9,1285.8 493.9,1296.9 489.2,1304.8 481.3,1311.1 473.4,1314.3 467,1315.9 462.3,1317.5 459.1,1319 457.5,1323.8 460.7,1330.1 465.4,1338 465.4,1344.4 459.1,1349.1 454.4,1350.7 450,1346 446,1340 443.3,1345.9 440.1,1350.7 441.7,1358.6 446.5,1364.9 451.2,1371.3 448,1372.8 443.3,1368.1 438.5,1360.2 437,1352.3 433.8,1342.8 432.2,1333.3 427.5,1327 424.3,1320.6 421.1,1314.3 416.4,1311.1 411.6,1312.7 406.9,1314.3 400.6,1319 394.2,1325.4 389.5,1330.1 385,1338 380,1342 377,1338 373.2,1331.9 370.5,1325.1 367.8,1317 365.1,1312.9 362.4,1311.5 359.7,1307.5 354.2,1303.4 346.1,1304.7 342,1303.4 336.6,1302 332,1303.5 333.9,1311.5 336.6,1317 332.5,1322.4 323.1,1326 319.7,1330 314.2,1335.3 300.7,1340.7 296,1341 306.1,1343.4 317,1346.1 314.2,1354.2 303.4,1370.5 289.8,1386.8 287.1,1403 284.4,1419.3 281.7,1439.7 281,1446 227,1446 227.5,1439.7 224.7,1430.2 222,1413.9 219.3,1397.6 219.3,1381.4 213.9,1373.2 205.8,1365.1 194.9,1361 181.4,1362.4 167.8,1362.4 157,1357 146.1,1348.8 140.7,1340.7 140.7,1327.1 146.1,1313.6 148.8,1302.7 153.3,1293.6 162.5,1284.5 169.3,1275.3"/>
<polygon points="78,1092.9 90.9,1089.7 110.2,1088.6 125.2,1092.9 138.1,1097.2 153.1,1100.4 146.7,1103.6 138.1,1105.8 136,1114.3 131.7,1122.9 129.5,1133.7 127.4,1144.4 123.1,1150.8 114.5,1153 103.8,1161.6 95.2,1168 86.6,1172.3 81.2,1180.9 78,1182"/>
<polygon points="123.1,1170.2 133.8,1168 146.7,1170.2 148.8,1174.5 142.4,1178.8 131.7,1179.8 124.2,1176.6"/>
<polygon points="211.1,1110 228.3,1106.8 249.7,1106.8 243.3,1112.2 239,1120.8 226.1,1125.1 215.4,1116.5"/>
<polygon points="170,1198 176,1199.5 177.5,1206 180.6,1212.4 184,1218.7 185.3,1223.5 179,1225.5 172.7,1227.6 175,1220.5 171.5,1214 168.5,1207.7 168.5,1201.3"/>
<polygon points="160,1210.8 166.3,1209.2 168.7,1215.6 166.3,1221.1 161.6,1221.9 160,1217.2"/>
<polygon points="541.4,1243.5 551.7,1244.9 554.6,1249.3 548.7,1252.3 542.9,1255.2 539.9,1250.8"/>
<polygon points="544.5,1256.5 545,1262 543,1268 539,1274 533,1279.5 526,1283.5 521,1289.5 516,1288 517,1283 524,1278.5 531,1275 536,1269 539.5,1262 540.5,1257"/>
<polygon points="491.5,1305 494,1304.8 496.3,1310 494,1312.7 491.8,1310"/>
<polygon points="464,1319 468.6,1319.5 468,1323.8 464.5,1323"/>
<polygon points="492.3,1323.8 497,1324 498,1333 495,1337 493,1331"/>
<polygon points="497,1338 505,1340 509.7,1350 507,1358.6 500,1356 498,1346"/>
<polygon points="464.2,1372 470,1366 478,1362 484,1357 488.6,1360 486,1370 482,1380 476,1386.8 468,1385 465,1379"/>
<polygon points="429,1360.2 435.4,1364.9 443.3,1372.8 449.6,1380 455.1,1387 452,1389.8 444,1384 437,1375 431,1366"/>
<polygon points="455,1391.3 465,1393 475,1395 482.5,1397.5 478,1399 466,1397.5 456,1394"/>
<polygon points="490,1372 500,1371.5 496,1377 503.9,1380 499,1389.8 493,1387 491,1379"/>
<polygon points="525.2,1380 535,1375 548,1377 558,1383 566,1390 574,1400 566,1402 555,1397 545,1395 535,1392 528,1386"/>
<polygon points="386,1340 388.5,1339.5 389.5,1343.5 387,1345"/>
<polygon points="311.5,1414 314.2,1419.3 308.8,1435.6 306,1441 300,1441 298,1435.6 300.7,1424.7 306.1,1416.6"/>
<polygon points="479.5,1426.4 490,1420 500.8,1414.2 510,1413 519.1,1411.2 528,1414 537.4,1414.2 544,1410 549.6,1405.1 553,1414 558.8,1423.4 565,1428 571,1432.5 576,1438 578,1446 470,1446 472,1436"/>
<polygon points="665.5,1160.8 676,1155.6 690,1150.3 700.5,1152.1 712.8,1153.8 725,1155.6 733.8,1157.3 746.1,1155.6 756.6,1154 765,1152 772,1153 778,1150 779,1142 788,1140 797,1141 806,1139 806,1310 803.9,1308.3 788.1,1292.5 777.6,1280.3 767.1,1266.3 763.6,1240 765.3,1232.6 760.1,1225.6 753.1,1218.6 746.1,1209.9 739.1,1202.9 732,1197.6 725,1192.4 718,1190.6 707.5,1188.9 698.8,1192.4 690,1197.6 686.5,1201.1 675,1208 662,1216.9 672,1206 679.5,1197.6 672.5,1194.1 667.3,1185.4 670.8,1180.1 665.5,1173.1 672.5,1169.6"/>
<polygon points="789,1116 796,1114 801.5,1115.5 800,1120 793,1121.4 789,1119"/>
<polygon points="769,1126 775,1121 783,1119.8 785.6,1123 780,1127 773,1128.5"/>
<polygon points="783,1125 790,1123.7 797,1126 803,1124 806,1128 803,1133 795,1134.8 787,1133 784,1129"/>
<polygon points="762,1138 768,1134 778,1134.5 784.8,1138 781,1143 770,1149.8 763,1146"/>
</g>
<g fill="#bdc9d0" stroke="#8e969c" stroke-width="0.7" stroke-linejoin="round">
<polygon points="169.3,1273 176.1,1266.2 185.3,1257.1 194.4,1252.5 205.8,1250.2 215,1259.3 224.1,1268.5 228,1266 230.9,1263.9 224.1,1257.1 217.2,1247.9 224.1,1250.2 235.5,1259.3 242.3,1266.2 246.9,1273 251,1270 256,1268.5 260.6,1261.6 265,1260 265.2,1275.3 276.6,1273 276.6,1282.2 269.7,1286.7 251.5,1286.7 237.8,1282.2 224.1,1286.7 212.7,1282.2 208.1,1273 199,1270.8 183,1273 173.9,1274.2 169.3,1275.3"/>
<polygon points="259.9,1239.8 270,1241 282.3,1244.7 287.3,1254.7 280,1258 274.9,1259.7 265,1259 259.9,1257.2 256,1250"/>
<polygon points="309.7,1239.8 317.1,1237.3 319.6,1247.2 317.1,1257.2 322.1,1264.6 314.6,1267.1 309.7,1257.2 312.1,1247.2"/>
<polygon points="218.6,1211.2 222.6,1209.2 225.7,1203.1 226.7,1197 227.7,1190.8 228.7,1183.7 233.8,1178.6 236.9,1173.6 242,1171.5 246,1172.5 243,1176.6 238.9,1182.7 236.9,1187.8 238.9,1191.9 246,1192.9 254.2,1192.9 255.2,1194.9 248.1,1195.9 243,1197 240.9,1201 238.9,1206.1 236.9,1210.2 230.8,1213.2 225.7,1211.2 219.6,1213.2 214.5,1210.2 213.5,1205.1 212.5,1201 210.4,1197"/>
<polygon points="308.7,1291.2 315.8,1296.3 322,1300.3 327,1303.4 332.1,1306.4 336,1303.5 334,1307.5 328,1308.5 324,1306.4 317.9,1305.4 314.8,1301.4 310.8,1295.3"/>
<polygon points="266.5,1288 270,1287 274,1292 280,1303 286,1316 291,1327 298,1339 294,1342 290.5,1336 285,1325 278,1312 272,1300"/>
<polygon points="264.5,1376 270,1375 272.4,1379 270,1384 265,1383.5"/>
<polygon points="272.6,1170.9 280,1169 286.2,1166 288.4,1173.1 277.1,1175.4 270.3,1177.7"/>
</g>
<g fill="none" stroke="#8e969c" stroke-width="0.7" stroke-linejoin="round">
<polyline points="177.9,1270 175.8,1282.9 162.9,1295.8 152.2,1300"/>
<polyline points="162.9,1295.8 167.2,1308.6 190.8,1323.7 197.3,1328 208,1319.4 210.1,1302.2 208,1287.2 205.8,1276.4"/>
<polyline points="167.2,1308.6 169.3,1332.3 156.5,1334.4 143.6,1332.3"/>
<polyline points="169.3,1332.3 171.5,1340.8 165,1345 158,1350"/>
<polyline points="197.3,1328 195.1,1338.7 188.7,1340.8"/>
<polyline points="210.1,1302.2 225.2,1310.8 225.2,1330.1 220.9,1343"/>
<polyline points="195.1,1340.8 208,1340.8 220.9,1343"/>
<polyline points="195.1,1340.8 197.3,1355.9 205.8,1362.3 216.6,1360.2 223,1347.3 220.9,1343"/>
<polyline points="247.7,1282.9 247.7,1312.9"/>
<polyline points="225.2,1310.8 246.6,1312.9"/>
<polyline points="225.2,1330.1 241,1332.5"/>
<polyline points="223,1347.3 225.2,1351.6 246.6,1351.6"/>
<polyline points="216.6,1360.2 216.6,1364.5 227.3,1362.3 246.6,1362.3 263.8,1364.5 272.4,1366.6"/>
<polyline points="216.6,1364.5 218.7,1381.6 225.2,1394.5 242.3,1390.2 255.2,1385.9 263.8,1375.2 272.4,1366.6"/>
<polyline points="265.4,1347.5 274.5,1349.4 289.6,1347.3 298.2,1340.8"/>
<polyline points="272.4,1366.6 276.7,1364.5 289.6,1368.8 302.5,1360.2 313.2,1351.6"/>
<polyline points="276.7,1364.5 274.5,1349.4"/>
<polyline points="272.4,1385.9 285.3,1394.5"/>
<polyline points="225.2,1394.5 220.9,1418.1 238,1420.3 242.3,1407.4 259.5,1407.4 272.4,1398.8 285.3,1394.5"/>
<polyline points="242.3,1407.4 242.3,1390.2"/>
<polyline points="272.4,1398.8 272.4,1416 268.1,1428.9 262,1440"/>
<polyline points="238,1420.3 240.2,1440"/>
<polyline points="150,1348 155,1353 160,1352 165,1356 170,1352 175,1357 182,1356 189.5,1346.1"/>
<polyline points="158,1350 157,1357"/>
<polyline points="170,1352 171.5,1340.8"/>
<polyline points="281,1289.3 293.9,1285 300,1284"/>
<polyline points="293.9,1325.8 306.8,1321.5 319.6,1312.9 326,1306"/>
<polyline points="276.6,1282.2 283,1286 290,1292"/>
<polyline points="292.3,1277.1 300,1276 302.7,1276.3"/>
<polyline points="289.8,1269.6 300,1270.8"/>
<polyline points="199.6,1215.6 201.1,1226.6 199.6,1236.1 202.7,1242.5 201.1,1248.8"/>
<polyline points="175.8,1248.8 196.4,1250.4"/>
<polyline points="164.7,1250.4 166.3,1264.6 168,1272"/>
<polyline points="220.1,1214 221.7,1226.6 231.2,1228.2 242.3,1226.6"/>
<polyline points="242.3,1212.4 242.3,1226.6"/>
<polyline points="242.3,1221.9 254.9,1220.3 262.8,1223.5"/>
<polyline points="242.3,1212.4 254.9,1210.8 258.2,1209.2"/>
<polyline points="242.3,1204.5 254.9,1204.5"/>
<polyline points="242.3,1226.6 248.6,1236.1 258.1,1239.3"/>
<polyline points="201.1,1231.4 215.4,1229.8 223.3,1233 231.2,1231.4 242.3,1226.6"/>
<polyline points="212.2,1236.1 223.3,1237.7 232.8,1239.3 248.6,1236.1"/>
<polyline points="232.8,1239.3 236,1245.6 245.4,1247.2 251.8,1242.5"/>
<polyline points="220.1,1242.5 226.5,1247.2 232.8,1255.1 239.1,1255.1 245.4,1252"/>
<polyline points="242.3,1261.5 250.2,1258.3"/>
<polyline points="201.1,1239.3 210.6,1237.7 220.1,1237.7"/>
<polyline points="199.6,1215.6 205.9,1214"/>
<polyline points="212.5,1201 214.5,1192.9 215.5,1185.8 218.6,1178.6 223.6,1171.5 229.7,1165.4 233.8,1161.4 238.9,1159.3 243,1163.4 244,1170.5"/>
<polyline points="243,1163.4 246,1156.3 251.1,1155.3 256.2,1156.3"/>
<polyline points="254.2,1199 248,1196"/>
<polyline points="307.2,1247.2 317.1,1249.7 324.6,1242.3 332,1244.7 342,1249.7 351.9,1252.2 359.4,1252.2 371.8,1249.7 384.2,1247.2 394.2,1237.3 404.1,1227.3"/>
<polyline points="322,1264.6 324.6,1259.7 339.5,1262.1 351.9,1264.6 359.4,1259.7 359.4,1252.2"/>
<polyline points="339.5,1269.6 351.9,1269.6 364.3,1264.6 369.3,1272.1 359.4,1279.5 351.9,1287 342,1284.5 339.5,1277"/>
<polyline points="351.9,1287 359.4,1294.5 354.4,1304.4"/>
<polyline points="369.3,1272.1 374.3,1279.5 369.3,1289.5 366.8,1299.4 362.4,1311.5"/>
<polyline points="384.2,1247.2 374.3,1259.7 369.3,1272.1"/>
<polyline points="374.3,1279.5 389.2,1287 404.1,1294.5 419,1296.9 433.9,1294.5 448.9,1299.4 455.9,1315.9"/>
<polyline points="404.1,1227.3 411.6,1237.3 424,1244.7 438.9,1247.2 448.9,1247.2 458,1250.6 472.5,1247 481.6,1236.2 487,1230.7"/>
<polyline points="411.6,1296.9 416.4,1306.4 422.7,1300.1 427.5,1296.9 433.8,1293.7 437,1301.6 440.1,1311.1 446.5,1314.3 455.9,1315.9"/>
<polyline points="433.8,1317.5 437,1327 440.1,1336.5 438.5,1344.4"/>
<polyline points="446.5,1314.3 448,1323.8 455.9,1333.3 459.1,1330.1"/>
<polyline points="448,1333.3 455.9,1338 454.4,1344.4"/>
<polyline points="443.3,1358.6 447,1358"/>
<polyline points="497,1260 503,1258 510,1252 516,1250"/>
<polyline points="725,1155.6 725,1192.4"/>
<polyline points="767,1230 806,1230"/>
<polyline points="788,1292.5 806,1292"/>
</g>
<g fill="#f08022" stroke="#b8631e" stroke-width="0.7" stroke-linejoin="round">
<polygon points="256.2,1156.3 260.3,1154.2 268.1,1155 281.6,1159.6 286.2,1166 280,1169 272.6,1170.9 270.3,1177.7 277.1,1175.4 288.4,1173.1 292.9,1164.1 299.7,1161.8 308.8,1159.6 317.8,1157.3 331.4,1155 340.4,1157.3 351.7,1155 354,1143.8 360.7,1139.2 367.5,1143.8 365.2,1157.3 363,1168.6 369.8,1166.4 372,1152.8 372,1146 378.8,1143.8 385.6,1143.8 390.1,1139.2 403.7,1134.7 417.2,1130.2 430.8,1125.7 440,1122.4 450,1119.9 462,1122 467.3,1130 465,1137 479.8,1139.8 494.7,1138.5 507.1,1142.3 514.6,1149.7 524.5,1147.2 539.4,1143.5 551.9,1144.7 564.3,1148.5 579.2,1152.2 594.1,1155.9 609,1155.9 623.9,1158.4 638.9,1162.1 653.8,1167.1 658.7,1169.6 648.8,1173.3 636.4,1172.1 628.9,1179.5 619,1184.5 604.1,1187 599.1,1189.5 596,1196 595.7,1203.8 589.9,1214.1 581,1222.9 578.1,1218.5 576.6,1208.2 578.1,1197.9 584,1192 574.2,1194.5 564.3,1194.5 551.9,1199.4 541.9,1204.4 533,1207.5 526.7,1209.7 534,1212.6 540,1218.5 537,1224.4 532.6,1233.2 525.2,1242 519.4,1249.3 521,1243 522.3,1234.6 512,1228.8 504.7,1218.5 495,1216.5 488,1219 483,1224.5 472,1227.5 455,1225.5 440,1221 433.9,1222.4 419,1224.9 404.1,1227.3 391.7,1222.4 381.7,1212.4 361.9,1209.9 349.4,1214.9 334.5,1222.4 319.6,1222.4 305,1227.3 302.5,1234 307,1239 309.7,1240 309.5,1247 307.2,1252 302.2,1254.7 294.7,1249.7 287.5,1249 284.8,1243 283,1238 277,1229 270.4,1221.4 264.3,1217.3 258.2,1209.2 254.2,1205.1 254.2,1199 256.2,1190.8 261.3,1182.7 259.2,1175.6 257.2,1165.4"/>
<polygon points="233.8,1210.2 240.9,1210.2 240.5,1213.2 234,1213.2"/>
<polygon points="315.5,1146 322.3,1134.7 333.6,1127.9 347.2,1124.5 356.2,1125.7 351.7,1129.1 338.1,1132.5 326.8,1139.2 322.3,1150.5 317.8,1150.5"/>
<polygon points="297.5,1103 310,1101 322,1103 318,1106.5 305,1107.5"/>
<polygon points="322,1102 335,1100.8 347.2,1103 340,1108.7 328,1107"/>
<polygon points="412.7,1105 422,1103 431,1107 433,1114 425,1115.5 416,1111"/>
<polygon points="433,1114 443,1112 448.9,1116 445,1119.7 436,1119"/>
<polygon points="526,1128.5 538,1127.3 543,1130 535,1133.6 527,1132"/>
<polygon points="546,1130 560.6,1130.5 557,1133.6 548,1133"/>
<polygon points="631.4,1149 638.9,1148.5 637,1151 632,1151"/>
<polygon points="542.9,1214.1 547.3,1217 550.2,1230.2 548.7,1237.6 545.8,1240.5 544.3,1231.7 542.9,1221.4"/>
<polygon points="300,1264.1 305.4,1262.7 312.2,1268.1 320.3,1266.8 328.5,1266.1 338,1269.5 340.7,1277.6 340.7,1287.1 343.4,1295.3 346.1,1299.3 342,1303.4 336.6,1302 328.5,1299.3 320.3,1295.3 313.6,1293.9 308.1,1289.8 305.4,1284.4 302.7,1276.3 300,1270.8"/>
<polygon points="277.3,1272.1 289.8,1269.6 292.3,1277.1 282.3,1282 276,1282 276.6,1276"/>
<polygon points="247.8,1312.2 276.3,1312.2 279,1327.1 273.6,1338 265.4,1347.5 246.4,1350.2 243.7,1340.7 241,1332.5 246.4,1321.7"/>
<polygon points="294.5,1327.8 300.6,1325.8 308.7,1323.7 316.9,1322.7 319.9,1325.8 320.9,1328.8 315.8,1331.9 307.7,1334.9 300.6,1338 295.5,1340 294.5,1333.9"/>
<polygon points="171.9,1340.7 181.4,1333.9 189.5,1338 189.5,1346.1 178.6,1348.8 170.5,1347.5"/>
</g>
<g fill="none" stroke="#3e5558" stroke-width="1.1">
<path d="M458.5,1194 Q498,1207 507.5,1254"/>
<path d="M339,1280 Q420,1246 502,1258"/>
<path d="M319.9,1322.7 Q400,1290 500,1266"/>
</g>
<path d="M181.4,1348 L181.4,1367" stroke="#6d7a80" stroke-width="0.8" fill="none"/>
<path d="M280.3,1290.2 L344.5,1386.8 M316.9,1337 L345.3,1346.1" stroke="#7b878d" stroke-width="0.6" fill="none"/>
<circle cx="306.7" cy="1332.4" r="1" fill="#2a1208"/>
<path d="M510.6,1261.0L528.1,1261.0M510.6,1261.4L525.0,1263.1M510.5,1261.7L527.5,1265.9M510.4,1262.1L524.0,1267.2M510.3,1262.4L525.8,1270.5M510.1,1262.7L522.0,1270.9M509.8,1263.0L522.9,1274.6M509.6,1263.2L519.2,1274.1M509.3,1263.5L519.2,1277.9M509.0,1263.7L515.7,1276.5M508.7,1263.8L514.9,1280.2M508.3,1263.9L511.8,1278.0M508.0,1264.0L510.1,1281.4M507.6,1264.0L507.6,1278.5M507.2,1264.0L505.1,1281.4M506.9,1263.9L503.4,1278.0M506.5,1263.8L500.3,1280.2M506.2,1263.7L499.5,1276.5M505.9,1263.5L496.0,1277.9M505.6,1263.2L496.0,1274.1M505.4,1263.0L492.3,1274.6M505.1,1262.7L493.2,1270.9M504.9,1262.4L489.4,1270.5M504.8,1262.1L491.2,1267.2M504.7,1261.7L487.7,1265.9M504.6,1261.4L490.2,1263.1M504.6,1261.0L487.1,1261.0M504.6,1260.6L490.2,1258.9M504.7,1260.3L487.7,1256.1M504.8,1259.9L491.2,1254.8M504.9,1259.6L489.4,1251.5M505.1,1259.3L493.2,1251.1M505.4,1259.0L492.3,1247.4M505.6,1258.8L496.0,1247.9M505.9,1258.5L496.0,1244.1M506.2,1258.3L499.5,1245.5M506.5,1258.2L500.3,1241.8M506.9,1258.1L503.4,1244.0M507.2,1258.0L505.1,1240.6M507.6,1258.0L507.6,1243.5M508.0,1258.0L510.1,1240.6M508.3,1258.1L511.8,1244.0M508.7,1258.2L514.9,1241.8M509.0,1258.3L515.7,1245.5M509.3,1258.5L519.2,1244.1M509.6,1258.8L519.2,1247.9M509.8,1259.0L522.9,1247.4M510.1,1259.3L522.0,1251.1M510.3,1259.6L525.8,1251.5M510.4,1259.9L524.0,1254.8M510.5,1260.3L527.5,1256.1M510.6,1260.6L525.0,1258.9" stroke="#2a6870" stroke-width="0.75" opacity="1"/>
<polygon fill="#17484f" points="504.7,1255.2 512,1250.8 516.4,1252.3 513.5,1256.7 509.1,1262.5 507.6,1267 503.2,1267 500.3,1261.1 501.7,1256.7"/>
<rect x="344.7" y="1332" width="77.8" height="29" rx="2.5" fill="#dfe4e7" opacity="0.95"/>
<rect x="345.2" y="1369" width="54.8" height="30.6" rx="2.5" fill="#dfe4e7" opacity="0.95"/>
<g fill="#111"><rect x="362" y="1338.4" width="34" height="2.4"/><path d="M360.8,1337.2 L365.5,1338 L365.5,1341.2 L360.8,1342 Z"/><path d="M391,1337.3 Q398,1336.2 405.8,1339.6 Q398,1343 391,1341.9 Z"/><rect x="378.3" y="1336.2" width="1.5" height="8"/><rect x="382" y="1338" width="1.6" height="6.3"/><rect x="376" y="1335.6" width="6.5" height="1.2"/></g>
<g fill="#111"><path d="M349,1373.5 L354,1372.6 L360,1373.8 L392,1373.8 L396.2,1374.8 L392,1375.8 L366,1376.2 L360,1377 L354,1377 L349,1376.8 Z"/><path d="M360.5,1376.5 L364,1376.5 L362.5,1382.4 L359.5,1382.2 Z"/><rect x="365" y="1376" width="2" height="3.5"/><rect x="361" y="1371.2" width="3" height="2.5"/><rect x="370" y="1372.8" width="18" height="3.6"/></g>
</g>
</svg>

<div class="t" style="left:340px;top:1069.5px;font-size:33px;font-weight:bold;color:#111;-webkit-text-stroke:0.4px #111;transform:scaleX(0.92);">2026</div><div class="t" style="left:404.4px;top:1071.3px;font-size:31px;font-weight:bold;color:#111;-webkit-text-stroke:0.4px #111;">년</div><div class="t" style="left:444.7px;top:1070px;font-size:31px;font-weight:bold;color:#111;-webkit-text-stroke:0.4px #111;transform:scaleX(0.9);">기준</div><div class="t" style="left:507.8px;top:1070px;font-size:31px;font-weight:bold;color:#111;-webkit-text-stroke:0.4px #111;transform:scaleX(0.807);">북한</div><div class="t" style="left:566.7px;top:1070px;font-size:31px;font-weight:bold;color:#111;-webkit-text-stroke:0.4px #111;transform:scaleX(0.889);">무기</div><div class="t" style="left:629.6px;top:1070px;font-size:31px;font-weight:bold;color:#111;-webkit-text-stroke:0.4px #111;transform:scaleX(0.911);">구매</div><div class="t" style="left:690.2px;top:1070px;font-size:31px;font-weight:bold;color:#111;-webkit-text-stroke:0.4px #111;transform:scaleX(0.87);">국가</div>
<div class="t" style="left:412px;top:1172px;font-size:18px;font-weight:bold;color:#2a0d10;transform:scaleX(0.92);">러시아</div>
<div class="t" style="left:524px;top:1259px;font-size:21px;font-weight:bold;color:#15434a;transform:scaleX(0.87);">북한</div>
<div class="t" style="left:251px;top:1252.5px;font-size:16.5px;font-weight:bold;color:#111;background:rgba(255,255,255,0.85);padding:0 1px;transform:scaleX(0.86);">시리아</div>
<div class="t" style="left:308px;top:1275px;font-size:16.5px;font-weight:bold;color:#2d0f10;transform:scaleX(0.9);">이란</div>
<div class="t" style="left:246px;top:1322px;font-size:17px;font-weight:bold;color:#2d0f10;transform:scaleX(0.85);">수단</div>
<div class="t" style="left:123px;top:1369.5px;font-size:17.5px;font-weight:bold;color:#111;transform:scaleX(0.92);">부르키나파소</div>
<div class="t" style="left:346.5px;top:1345.5px;font-size:12.5px;font-weight:bold;color:#1a1a1a;transform:scaleX(0.79);">하마스/헤즈볼라</div>
<div class="t j" style="left:351px;top:1385.5px;font-size:11.5px;font-weight:bold;color:#1a1a1a;transform:scaleX(0.88);width:51.3px;">후티 반군</div>
</body>
</html>
